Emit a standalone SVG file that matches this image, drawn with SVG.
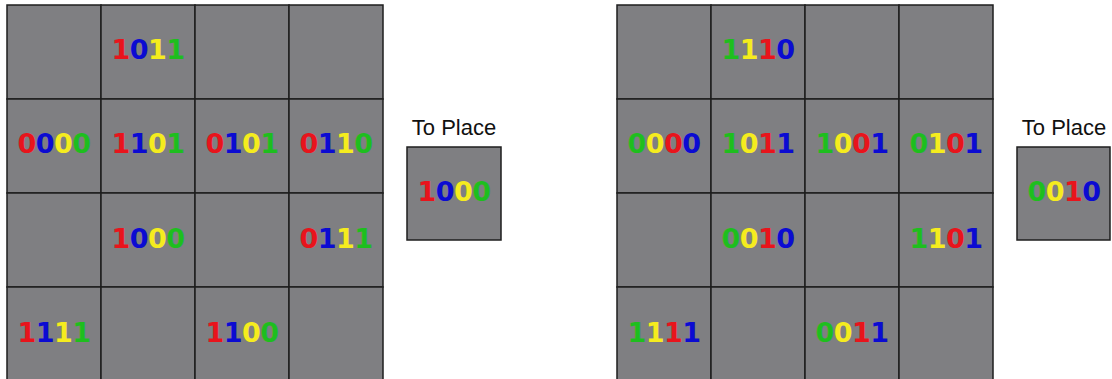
<svg xmlns="http://www.w3.org/2000/svg" width="1112" height="379" viewBox="0 0 1112 379">
<style>
.c{fill:#7f7f82;stroke:#1e1e1e;stroke-width:1.5}
.d{font-family:"DejaVu Sans",Verdana,sans-serif;font-size:27px;font-weight:bold;letter-spacing:-0.5px;text-anchor:middle}
.l{font-family:"Liberation Sans",Arial,sans-serif;font-size:22px;text-anchor:middle;fill:#111}
.r{fill:#e8141c}.b{fill:#0b0bd2}.y{fill:#f5ec1e}.g{fill:#1ebe1e}
</style>
<rect width="1112" height="379" fill="#fff"/>
<g id="left-grid">
<g id="L11"><rect class="c" x="7" y="5" width="94" height="94"/></g>
<g id="L12"><rect class="c" x="101" y="5" width="94" height="94"/><text class="d" x="148" y="59"><tspan class="r">1</tspan><tspan class="b">0</tspan><tspan class="y">1</tspan><tspan class="g">1</tspan></text></g>
<g id="L13"><rect class="c" x="195" y="5" width="94" height="94"/></g>
<g id="L14"><rect class="c" x="289" y="5" width="94" height="94"/></g>
<g id="L21"><rect class="c" x="7" y="99" width="94" height="94"/><text class="d" x="54" y="153"><tspan class="r">0</tspan><tspan class="b">0</tspan><tspan class="y">0</tspan><tspan class="g">0</tspan></text></g>
<g id="L22"><rect class="c" x="101" y="99" width="94" height="94"/><text class="d" x="148" y="153"><tspan class="r">1</tspan><tspan class="b">1</tspan><tspan class="y">0</tspan><tspan class="g">1</tspan></text></g>
<g id="L23"><rect class="c" x="195" y="99" width="94" height="94"/><text class="d" x="242" y="153"><tspan class="r">0</tspan><tspan class="b">1</tspan><tspan class="y">0</tspan><tspan class="g">1</tspan></text></g>
<g id="L24"><rect class="c" x="289" y="99" width="94" height="94"/><text class="d" x="336" y="153"><tspan class="r">0</tspan><tspan class="b">1</tspan><tspan class="y">1</tspan><tspan class="g">0</tspan></text></g>
<g id="L31"><rect class="c" x="7" y="193" width="94" height="94"/></g>
<g id="L32"><rect class="c" x="101" y="193" width="94" height="94"/><text class="d" x="148" y="248"><tspan class="r">1</tspan><tspan class="b">0</tspan><tspan class="y">0</tspan><tspan class="g">0</tspan></text></g>
<g id="L33"><rect class="c" x="195" y="193" width="94" height="94"/></g>
<g id="L34"><rect class="c" x="289" y="193" width="94" height="94"/><text class="d" x="336" y="248"><tspan class="r">0</tspan><tspan class="b">1</tspan><tspan class="y">1</tspan><tspan class="g">1</tspan></text></g>
<g id="L41"><rect class="c" x="7" y="287" width="94" height="94"/><text class="d" x="54" y="342"><tspan class="r">1</tspan><tspan class="b">1</tspan><tspan class="y">1</tspan><tspan class="g">1</tspan></text></g>
<g id="L42"><rect class="c" x="101" y="287" width="94" height="94"/></g>
<g id="L43"><rect class="c" x="195" y="287" width="94" height="94"/><text class="d" x="242" y="342"><tspan class="r">1</tspan><tspan class="b">1</tspan><tspan class="y">0</tspan><tspan class="g">0</tspan></text></g>
<g id="L44"><rect class="c" x="289" y="287" width="94" height="94"/></g>
</g>
<g id="left-to-place">
<text class="l" x="454" y="135">To Place</text>
<rect class="c" x="407" y="147" width="94" height="93"/>
<text class="d" x="454" y="201"><tspan class="r">1</tspan><tspan class="b">0</tspan><tspan class="y">0</tspan><tspan class="g">0</tspan></text>
</g>
<g id="right-grid">
<g id="R11"><rect class="c" x="617" y="5" width="94" height="94"/></g>
<g id="R12"><rect class="c" x="711" y="5" width="94" height="94"/><text class="d" x="758" y="59"><tspan class="g">1</tspan><tspan class="y">1</tspan><tspan class="r">1</tspan><tspan class="b">0</tspan></text></g>
<g id="R13"><rect class="c" x="805" y="5" width="94" height="94"/></g>
<g id="R14"><rect class="c" x="899" y="5" width="94" height="94"/></g>
<g id="R21"><rect class="c" x="617" y="99" width="94" height="94"/><text class="d" x="664" y="153"><tspan class="g">0</tspan><tspan class="y">0</tspan><tspan class="r">0</tspan><tspan class="b">0</tspan></text></g>
<g id="R22"><rect class="c" x="711" y="99" width="94" height="94"/><text class="d" x="758" y="153"><tspan class="g">1</tspan><tspan class="y">0</tspan><tspan class="r">1</tspan><tspan class="b">1</tspan></text></g>
<g id="R23"><rect class="c" x="805" y="99" width="94" height="94"/><text class="d" x="852" y="153"><tspan class="g">1</tspan><tspan class="y">0</tspan><tspan class="r">0</tspan><tspan class="b">1</tspan></text></g>
<g id="R24"><rect class="c" x="899" y="99" width="94" height="94"/><text class="d" x="946" y="153"><tspan class="g">0</tspan><tspan class="y">1</tspan><tspan class="r">0</tspan><tspan class="b">1</tspan></text></g>
<g id="R31"><rect class="c" x="617" y="193" width="94" height="94"/></g>
<g id="R32"><rect class="c" x="711" y="193" width="94" height="94"/><text class="d" x="758" y="248"><tspan class="g">0</tspan><tspan class="y">0</tspan><tspan class="r">1</tspan><tspan class="b">0</tspan></text></g>
<g id="R33"><rect class="c" x="805" y="193" width="94" height="94"/></g>
<g id="R34"><rect class="c" x="899" y="193" width="94" height="94"/><text class="d" x="946" y="248"><tspan class="g">1</tspan><tspan class="y">1</tspan><tspan class="r">0</tspan><tspan class="b">1</tspan></text></g>
<g id="R41"><rect class="c" x="617" y="287" width="94" height="94"/><text class="d" x="664" y="342"><tspan class="g">1</tspan><tspan class="y">1</tspan><tspan class="r">1</tspan><tspan class="b">1</tspan></text></g>
<g id="R42"><rect class="c" x="711" y="287" width="94" height="94"/></g>
<g id="R43"><rect class="c" x="805" y="287" width="94" height="94"/><text class="d" x="852" y="342"><tspan class="g">0</tspan><tspan class="y">0</tspan><tspan class="r">1</tspan><tspan class="b">1</tspan></text></g>
<g id="R44"><rect class="c" x="899" y="287" width="94" height="94"/></g>
</g>
<g id="right-to-place">
<text class="l" x="1064" y="135">To Place</text>
<rect class="c" x="1017" y="147" width="93" height="93"/>
<text class="d" x="1064" y="201"><tspan class="g">0</tspan><tspan class="y">0</tspan><tspan class="r">1</tspan><tspan class="b">0</tspan></text>
</g>
<g id="connectors"/>
</svg>
